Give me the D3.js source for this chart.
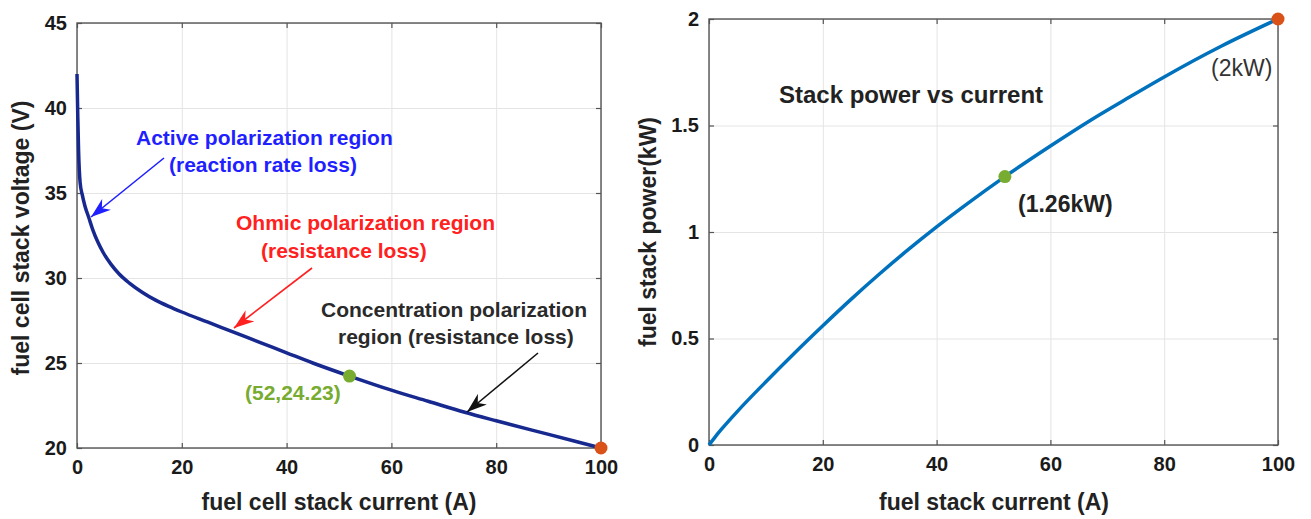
<!DOCTYPE html>
<html>
<head>
<meta charset="utf-8">
<script src="https://cdn.jsdelivr.net/npm/d3@7"></script>
<style>
  body { margin: 0; background: #fff; }
  svg { display: block; font-family: "Liberation Sans", Arial, sans-serif; }
  .tick text { font-size: 20px; font-weight: bold; fill: #1a1a1a; }
  .grid line { stroke: #e4e4e4; stroke-width: 1; }
  .grid .domain, .ticks .domain, .labels .domain, .labels line { display: none; }
  .ticks line { stroke: #555; stroke-width: 1.2; }
  .ticks text { display: none; }
</style>
</head>
<body>
<div id="chart"></div>
<script>
// left panel: stack voltage vs current
const currentA = [0, 0.15, 0.3, 0.6, 1, 1.5, 2.2, 3, 4, 5, 6.5, 8, 10, 12.5, 15, 17.5, 20, 25, 30, 35, 40, 45, 52, 60, 67, 74, 80, 90, 100];
const voltageV = [42, 39.5, 37.5, 35.6, 34.9, 34.25, 33.6, 32.85, 32.1, 31.5, 30.8, 30.25, 29.7, 29.15, 28.7, 28.33, 28.0, 27.4, 26.8, 26.2, 25.6, 25.0, 24.23, 23.4, 22.75, 22.1, 21.6, 20.8, 20.0];

// right panel: stack power vs current
const powerCurrentA = [0, 1, 2.2, 5, 10, 15, 20, 25, 30, 35, 40, 45, 52, 60, 67, 74, 80, 90, 100];
const powerKW = [0, 0.035, 0.074, 0.158, 0.297, 0.431, 0.56, 0.685, 0.804, 0.917, 1.024, 1.125, 1.26, 1.404, 1.524, 1.635, 1.728, 1.872, 2.0];

const xTicks = [0, 20, 40, 60, 80, 100];
const voltTicks = [20, 25, 30, 35, 40, 45];
const powerTicks = [0, 0.5, 1, 1.5, 2];

// marked operating points
const markI = [52, 100];
const markV = [24.23, 20];
const markP = [1.26, 2];
const markColors = ['#77ac30', '#d95319'];

const W = 1311, H = 519;
const svg = d3.select('#chart').append('svg').attr('width', W).attr('height', H);

const defs = svg.append('defs');
function arrowMarker(id, color) {
  defs.append('marker').attr('id', id)
    .attr('viewBox', '0 0 20 14').attr('markerUnits', 'userSpaceOnUse')
    .attr('markerWidth', 20).attr('markerHeight', 14)
    .attr('refX', 20).attr('refY', 7).attr('orient', 'auto')
    .append('path').attr('d', 'M0,0 L20,7 L0,14 L6,7 Z').attr('fill', color);
}
arrowMarker('arBlue', '#1f1fff');
arrowMarker('arRed', '#ff2020');
arrowMarker('arBlack', '#111');

function panel({ x, y, xT, yT, yFmt }) {
  const [x0, x1] = x.range();
  const [y0, y1] = y.range();
  const g = svg.append('g');
  g.append('g').attr('class', 'grid').attr('transform', `translate(0,${y0})`)
    .call(d3.axisBottom(x).tickValues(xT).tickSize(-(y0 - y1)).tickFormat(''));
  g.append('g').attr('class', 'grid').attr('transform', `translate(${x0},0)`)
    .call(d3.axisLeft(y).tickValues(yT).tickSize(-(x1 - x0)).tickFormat(''));
  g.append('g').attr('class', 'ticks').attr('transform', `translate(0,${y0})`).call(d3.axisBottom(x).tickValues(xT).tickSize(-5));
  g.append('g').attr('class', 'ticks').attr('transform', `translate(0,${y1})`).call(d3.axisTop(x).tickValues(xT).tickSize(-5));
  g.append('g').attr('class', 'ticks').attr('transform', `translate(${x0},0)`).call(d3.axisLeft(y).tickValues(yT).tickSize(-5));
  g.append('g').attr('class', 'ticks').attr('transform', `translate(${x1},0)`).call(d3.axisRight(y).tickValues(yT).tickSize(-5));
  g.append('rect').attr('x', x0).attr('y', y1).attr('width', x1 - x0).attr('height', y0 - y1)
    .attr('fill', 'none').attr('stroke', '#555').attr('stroke-width', 1.4);
  g.append('g').attr('class', 'labels').attr('transform', `translate(0,${y0})`)
    .call(d3.axisBottom(x).tickValues(xT).tickSize(0).tickPadding(12));
  g.append('g').attr('class', 'labels').attr('transform', `translate(${x0},0)`)
    .call(d3.axisLeft(y).tickValues(yT).tickSize(0).tickPadding(10).tickFormat(yFmt));
  return g;
}

function label(txt, x, y, opts = {}) {
  return svg.append('text').attr('x', x).attr('y', y)
    .attr('font-size', opts.size || 21)
    .attr('font-weight', opts.weight || 'bold')
    .attr('fill', opts.color || '#222')
    .attr('text-anchor', opts.anchor || 'start')
    .attr('transform', opts.rotate ? `rotate(-90,${x},${y})` : null)
    .text(txt);
}

function arrow(xa, ya, xb, yb, color, marker) {
  svg.append('line').attr('x1', xa).attr('y1', ya).attr('x2', xb).attr('y2', yb)
    .attr('stroke', color).attr('stroke-width', 1.6).attr('marker-end', `url(#${marker})`);
}

// ---- left panel
const xL = d3.scaleLinear().domain([0, 100]).range([77, 601]);
const yL = d3.scaleLinear().domain([20, 45]).range([448, 23]);
panel({ x: xL, y: yL, xT: xTicks, yT: voltTicks, yFmt: d3.format('d') });

const voltData = currentA.map((c, i) => ({ x: c, y: voltageV[i] }));
svg.append('path').datum(voltData)
  .attr('d', d3.line().x(d => xL(d.x)).y(d => yL(d.y)).curve(d3.curveMonotoneX))
  .attr('fill', 'none').attr('stroke', '#17288f').attr('stroke-width', 3.5);

svg.selectAll('.dotL').data(markI).enter().append('circle')
  .attr('cx', d => xL(d)).attr('cy', (d, i) => yL(markV[i])).attr('r', 6.5)
  .attr('fill', (d, i) => markColors[i]);

label('fuel cell stack current (A)', 339, 510, { size: 23, anchor: 'middle' });
label('fuel cell stack voltage (V)', 29, 238, { size: 23, anchor: 'middle', rotate: true });

label('Active polarization region', 136, 145, { color: '#1f1fff' });
label('(reaction rate loss)', 169, 172, { color: '#1f1fff' });
arrow(164, 158, 91, 217, '#1f1fff', 'arBlue');

label('Ohmic polarization region', 236, 230, { color: '#ff2020' });
label('(resistance loss)', 261, 258, { color: '#ff2020' });
arrow(312, 268, 234, 328, '#ff2020', 'arRed');

label('Concentration polarization', 321, 317, { color: '#2a2a2a' });
label('region (resistance loss)', 338, 344, { color: '#2a2a2a' });
arrow(538, 353, 467, 412, '#111', 'arBlack');

label('(52,24.23)', 245, 400, { color: '#77ac30' });

// ---- right panel
const xR = d3.scaleLinear().domain([0, 100]).range([709, 1278]);
const yR = d3.scaleLinear().domain([0, 2]).range([445, 19]);
panel({ x: xR, y: yR, xT: xTicks, yT: powerTicks, yFmt: d => String(d) });

const powerData = powerCurrentA.map((c, i) => ({ x: c, y: powerKW[i] }));
svg.append('path').datum(powerData)
  .attr('d', d3.line().x(d => xR(d.x)).y(d => yR(d.y)).curve(d3.curveMonotoneX))
  .attr('fill', 'none').attr('stroke', '#0072bd').attr('stroke-width', 3.5);

svg.selectAll('.dotR').data(markI).enter().append('circle')
  .attr('cx', d => xR(d)).attr('cy', (d, i) => yR(markP[i])).attr('r', 6.5)
  .attr('fill', (d, i) => markColors[i]);

label('fuel stack current (A)', 994, 510, { size: 23, anchor: 'middle' });
label('fuel stack power(kW)', 656, 232, { size: 23, anchor: 'middle', rotate: true });
label('Stack power vs current', 779, 103, { size: 24 });
label('(1.26kW)', 1018, 212, { size: 23 });
label('(2kW)', 1211, 76, { size: 23, weight: 'normal', color: '#333' });
</script>
</body>
</html>
